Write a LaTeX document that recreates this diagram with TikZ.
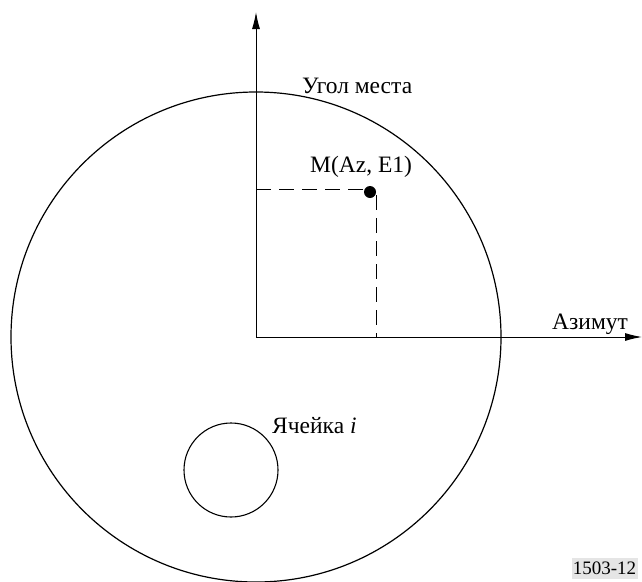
\documentclass[tikz,border=0pt]{standalone}
\usepackage{fontspec}
\setmainfont{Liberation Serif}
\usetikzlibrary{arrows.meta}
\begin{document}
\begin{tikzpicture}[x=1pt,y=-1pt,
  lbl/.style={anchor=base west,inner sep=0pt,font=\fontsize{23.5}{25}\selectfont},
  axis/.style={line width=1pt,-{Latex[length=17pt,width=8pt]}},
  guide/.style={line width=1pt,dash pattern=on 15pt off 8pt}]
\useasboundingbox (0,0) rectangle (642,581);
\coordinate (O) at (256,337);
\coordinate (ytop) at (256,12);
\coordinate (xend) at (642,337);
\draw[line width=1.2pt] (O) circle[radius=245];
\draw[line width=1.1pt] (231,470) coordinate (c) circle[radius=47];
\draw[axis] (O) -- (ytop);
\draw[axis] (O) -- (xend);
\node[circle,fill=black,inner sep=0pt,minimum size=12pt] (M) at (370,192) {};
\coordinate (my) at (256,189);
\coordinate (mx) at (376,337);
\draw[guide] (my) -- (370,189);
\draw[guide] (376,195) -- (mx);
\node[lbl] (l1) at (302,93) {Угол места};
\node[lbl] (l2) at (310,172) {M(Az, E1)};
\node[lbl] (l3) at (552,329) {Азимут};
\node[lbl] (l4) at (272,433) {Ячейка \textit{i}};
\node[fill=black!10,inner sep=0pt,minimum width=66pt,minimum height=21pt,font=\fontsize{19}{21}\selectfont] (tag) at (604.5,568) {1503-12};
\end{tikzpicture}
\end{document}
